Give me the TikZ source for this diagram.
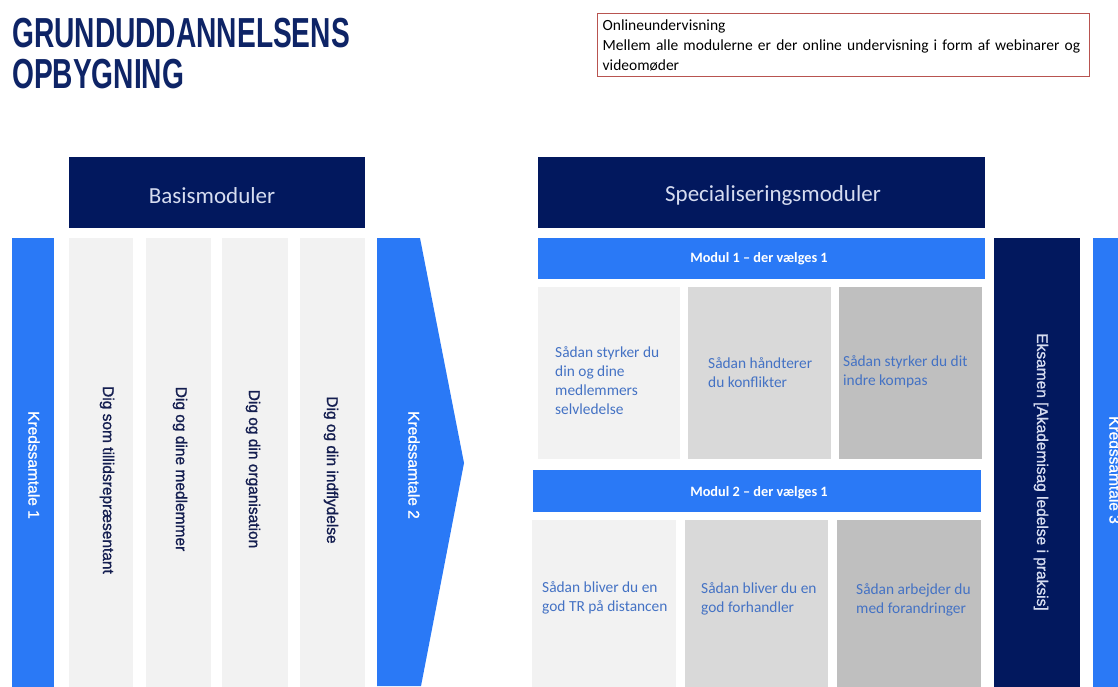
\documentclass[tikz,border=0pt]{standalone}
\usepackage{fontspec}
\setmainfont{Carlito}
\newfontfamily\arialf{Liberation Sans}
\newfontfamily\arialsb[FakeBold=1.2]{Liberation Sans}
\definecolor{navy}{RGB}{2,24,94}
\definecolor{titlenavy}{RGB}{14,36,102}
\definecolor{kblue}{RGB}{42,121,246}
\definecolor{g1}{RGB}{242,242,242}
\definecolor{g2}{RGB}{217,217,217}
\definecolor{g3}{RGB}{191,191,191}
\definecolor{modtext}{RGB}{68,114,196}
\definecolor{boxred}{RGB}{184,84,80}
\definecolor{lighttext}{RGB}{214,220,240}
\definecolor{coltext}{RGB}{20,30,80}
\tikzset{
  blk/.style={draw=none, inner sep=0pt, outer sep=0pt},
  vtext/.style={rotate=-90, inner sep=0pt, font=\arialsb\fontsize{15.5}{18}\selectfont},
  modtxt/.style={anchor=west, align=left, inner sep=0pt, text=modtext, font=\fontsize{15.4}{19}\selectfont},
  modbar/.style={blk, fill=kblue},
  modbartxt/.style={inner sep=0pt, text=white, font=\bfseries\fontsize{14.3}{16}\selectfont},
  header/.style={blk, fill=navy},
  headertxt/.style={inner sep=0pt, text=lighttext, font=\fontsize{23}{28}\selectfont}
}
\begin{document}
\begin{tikzpicture}[x=1pt,y=-1pt]
\useasboundingbox (0,0) rectangle (1118,686);
\clip (0,0) rectangle (1118,686);
\fill[white] (0,0) rectangle (1118,686);

% title
\node[anchor=base west, inner sep=0pt, text=titlenavy] (t1) at (12,47)
  {\scalebox{0.67}[1]{\arialf\bfseries\fontsize{42}{46}\selectfont GRUNDUDDANNELSENS}};
\node[anchor=base west, inner sep=0pt, text=titlenavy] (t2) at (12,88)
  {\scalebox{0.67}[1]{\arialf\bfseries\fontsize{42}{46}\selectfont OPBYGNING}};

% online box
\node[draw=boxred, line width=1.4pt, anchor=north west, minimum width=492pt, minimum height=63pt,
  inner xsep=5pt, inner ysep=1pt, align=left, text width=482pt,
  font=\fontsize{15.5}{20}\selectfont, text=black] (online) at (597,13)
  {Onlineundervisning\\Mellem alle modulerne er der online undervisning i form af webinarer og\\videomøder};

% headers
\node[header, minimum width=296pt, minimum height=71pt] (basis) at (217,192.5) {};
\node[headertxt] (basist) at (212,196) {Basismoduler};
\node[header, minimum width=447pt, minimum height=71pt] (spec) at (761.5,192.5) {};
\node[headertxt] (spect) at (773,195) {Specialiseringsmoduler};

% Kredssamtale 1
\node[blk, fill=kblue, minimum width=42pt, minimum height=464pt] (k1) at (33,470) {};
\node[vtext, text=white] (k1t) at (34,465) {Kredssamtale 1};

% basis columns
\node[blk, fill=g1, minimum width=64pt, minimum height=464pt] (c1) at (101,470) {};
\node[blk, fill=g1, minimum width=65pt, minimum height=464pt] (c2) at (178.5,470) {};
\node[blk, fill=g1, minimum width=66pt, minimum height=464pt] (c3) at (255,470) {};
\node[blk, fill=g1, minimum width=65pt, minimum height=464pt] (c4) at (332.5,470) {};
\node[vtext, text=coltext] (c1t) at (107,480) {Dig som tillidsrepræsentant};
\node[vtext, text=coltext] (c2t) at (180,469) {Dig og dine medlemmer};
\node[vtext, text=coltext] (c3t) at (253,469) {Dig og din organisation};
\node[vtext, text=coltext] (c4t) at (331,470) {Dig og din indflydelse};

% Kredssamtale 2 chevron
\fill[kblue] (377,238) -- (420,238) -- (464,463) -- (421,686) -- (377,686) -- cycle;
\node[vtext, text=white] (k2t) at (414,465) {Kredssamtale 2};

% Modul 1
\node[modbar, minimum width=447pt, minimum height=41pt] (m1) at (761.5,258.5) {};
\node[modbartxt] (m1t) at (759,259) {Modul 1 – der vælges 1};
\node[blk, fill=g1, anchor=north west, minimum width=142pt, minimum height=172pt] (a1) at (538,287) {};
\node[blk, fill=g2, anchor=north west, minimum width=143pt, minimum height=172pt] (b1) at (688,287) {};
\node[blk, fill=g3, anchor=north west, minimum width=143pt, minimum height=172pt] (d1) at (839,287) {};
\node[modtxt] (a1t) at (555,380.5) {Sådan styrker du\\din og dine\\medlemmers\\selvledelse};
\node[modtxt] (b1t) at (708,372.5) {Sådan håndterer\\du konflikter};
\node[modtxt] (d1t) at (843,371.5) {Sådan styrker du dit\\indre kompas};

% Modul 2
\node[modbar, minimum width=448pt, minimum height=42pt] (m2) at (757,491) {};
\node[modbartxt] (m2t) at (759,493) {Modul 2 – der vælges 1};
\node[blk, fill=g1, anchor=north west, minimum width=144pt, minimum height=180pt] (a2) at (532,520) {};
\node[blk, fill=g2, anchor=north west, minimum width=143pt, minimum height=180pt] (b2) at (685,520) {};
\node[blk, fill=g3, anchor=north west, minimum width=144pt, minimum height=180pt] (d2) at (837,520) {};
\node[modtxt] (a2t) at (542,597.5) {Sådan bliver du en\\god TR på distancen};
\node[modtxt] (b2t) at (701,598.5) {Sådan bliver du en\\god forhandler};
\node[modtxt] (d2t) at (856,599.5) {Sådan arbejder du\\med forandringer};

% Eksamen
\node[blk, fill=navy, minimum width=86pt, minimum height=464pt] (eks) at (1037,470) {};
\node[vtext, text=lighttext] (ekst) at (1041,472) {Eksamen [Akademisag ledelse i praksis]};

% Kredssamtale 3 (cut off at the right edge, as in the reference)
\node[blk, fill=kblue, minimum width=42pt, minimum height=464pt] (k3) at (1114,470) {};
\node[vtext, text=white] (k3t) at (1115,470) {Kredssamtale 3};
\end{tikzpicture}
\end{document}
